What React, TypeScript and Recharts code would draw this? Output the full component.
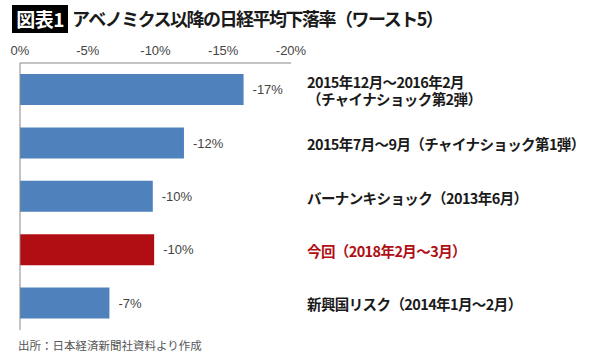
import { BarChart, Bar, XAxis, YAxis, Cell, LabelList } from 'recharts';

const periods = [
  '2015年12月～2016年2月\n（チャイナショック第2弾）',
  '2015年7月～9月（チャイナショック第1弾）',
  'バーナンキショック（2013年6月）',
  '今回（2018年2月～3月）',
  '新興国リスク（2014年1月～2月）',
];
const declines = [-16.5, -12.1, -9.8, -9.9, -6.6];
const valueLabels = ['-17%', '-12%', '-10%', '-10%', '-7%'];
const highlight = [false, false, false, true, false];
const xTicks = [0, -5, -10, -15, -20];

const data = periods.map((p, i) => ({
  period: p,
  value: declines[i],
  label: valueLabels[i],
  current: highlight[i],
}));

const BLUE = '#4f81bd';
const RED = '#b10e13';
const JP = '"Noto Sans CJK JP", "Noto Sans", sans-serif';

const PeriodTick = (props: any) => {
  const { x, y, payload, index } = props;
  const lines = String(payload.value).split('\n');
  const color = highlight[index] ? RED : '#1a1a1a';
  const lh = 17;
  const start = y - ((lines.length - 1) * lh) / 2;
  return (
    <text x={x} y={start} fill={color} fontSize={14.5} letterSpacing={-0.6} fontWeight={700} fontFamily={JP} textAnchor="start" dominantBaseline="central">
      {lines.map((l, i) => (
        <tspan key={i} x={x} y={start + i * lh}>{l}</tspan>
      ))}
    </text>
  );
};

export default function App() {
  return (
    <div style={{ position: 'absolute', left: 0, top: 0, width: 600, height: 364, background: '#fff' }}>
      <div style={{ position: 'absolute', left: 12, top: 5, width: 56, height: 28, background: '#000', color: '#fff', fontFamily: JP, fontWeight: 700, fontSize: 19, lineHeight: '28px', textAlign: 'center', letterSpacing: -0.5 }}>
        図表1
      </div>
      <div style={{ position: 'absolute', left: 72, top: 4, height: 28, lineHeight: '28px', fontFamily: JP, fontWeight: 700, fontSize: 18, letterSpacing: -1.5, color: '#1a1a1a', whiteSpace: 'nowrap' }}>
        アベノミクス以降の日経平均下落率（ワースト5）
      </div>
      <BarChart
        width={600}
        height={364}
        data={data}
        layout="vertical"
        margin={{ top: 43, right: 0, bottom: 34, left: 0 }}
        barSize={31}
      >
        <XAxis
          type="number"
          orientation="top"
          domain={[-20, 0]}
          ticks={xTicks}
          reversed
          tickFormatter={(v) => `${v}%`}
          tickLine={false}
          tickSize={6}
          tickMargin={2}
          height={20}
          axisLine={{ stroke: '#888' }}
          tick={{ fill: '#444', fontSize: 13, fontFamily: 'Liberation Sans, Arial, sans-serif' }}
          interval={0}
        />
        <YAxis
          yAxisId="left"
          type="category"
          dataKey="period"
          width={20}
          tick={false}
          tickLine={false}
          axisLine={{ stroke: '#888' }}
        />
        <YAxis
          yAxisId="right"
          type="category"
          dataKey="period"
          orientation="right"
          width={309}
          tickLine={false}
          axisLine={false}
          tickSize={0}
          tickMargin={16}
          tick={<PeriodTick />}
          interval={0}
        />
        <Bar dataKey="value" yAxisId="left" isAnimationActive={false}>
          {data.map((d, i) => (
            <Cell key={i} fill={d.current ? RED : BLUE} />
          ))}
          <LabelList
            dataKey="label"
            position="right"
            offset={9}
            fill="#444"
            fontSize={13}
            fontFamily="Liberation Sans, Arial, sans-serif"
          />
        </Bar>
      </BarChart>
      <div style={{ position: 'absolute', left: 18, top: 337, fontFamily: JP, fontSize: 11.5, color: '#555', whiteSpace: 'nowrap' }}>
        出所：日本経済新聞社資料より作成
      </div>
    </div>
  );
}
